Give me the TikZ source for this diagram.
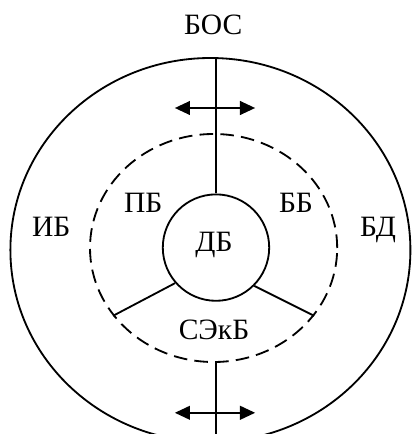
\documentclass[tikz,border=0pt]{standalone}
\usepackage{fontspec}
\setmainfont{Liberation Serif}
\usetikzlibrary{arrows.meta,shapes.geometric}

\begin{document}
\begin{tikzpicture}[
  font=\fontsize{21}{24}\selectfont,
  zone/.style={draw,ellipse,inner sep=0pt,line width=1.3pt},
  flow/.style={{Triangle[length=0.38cm,width=0.34cm]}-{Triangle[length=0.38cm,width=0.34cm]},line width=1.6pt}
]

\clip (-5.4,-4.65) rectangle (4.9,6.2);

% Ellipses
\node[zone,minimum width=10cm,minimum height=9.6cm] (outer) at (-0.14,-0.05) {};
\node[zone,dashed,dash pattern=on 0.34cm off 0.18cm,minimum width=6.18cm,minimum height=5.7cm] (inner) at (-0.06,0) {};
\node[draw,circle,line width=1.3pt,minimum size=2.66cm,inner sep=0pt] (db) at (0,0.01) {};

% Labels
\node at (-0.05,0.07) {ДБ};
\node at (-0.07,5.57) {БОС};
\node at (-4.12,0.52) {ИБ};
\node at (4.05,0.45) {БД};
\node at (-1.82,1.12) {ПБ};
\node at (2.0,1.12) {ББ};
\node at (-0.05,-2.05) {СЭкБ};

% Lines
\coordinate (bottom) at (0,-4.7);
\draw[line width=1.3pt] (outer.north -| db.north) -- (db.north);
\draw[line width=1.3pt] (inner.south -| db.south) -- (bottom);
\draw[line width=1.3pt] (db.221) -- (inner.214);
\draw[line width=1.3pt] (db.315) -- (inner.326);

% Arrows
\coordinate (tl) at (-1.03,3.5);
\coordinate (tr) at (0.98,3.5);
\draw[flow] (tl) -- (tr);

\coordinate (bl) at (-1.03,-4.12);
\coordinate (br) at (0.98,-4.12);
\draw[flow] (bl) -- (br);

\end{tikzpicture}
\end{document}
